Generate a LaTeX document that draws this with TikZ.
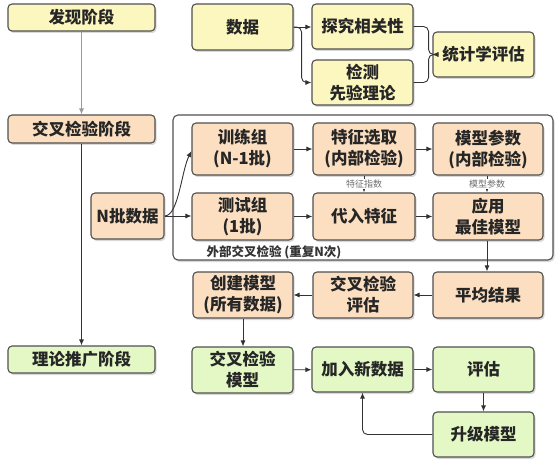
\documentclass[tikz,border=0pt]{standalone}
\usepackage{fontspec}
\setmainfont{Noto Sans CJK SC}
\usepackage{tikz}
\usetikzlibrary{arrows.meta}
\usetikzlibrary{calc}
\usetikzlibrary{shadows}
\definecolor{stage-yellow}{HTML}{FBF7BF}
\definecolor{stage-orange}{HTML}{FCDFC1}
\definecolor{stage-green}{HTML}{E3F8C4}
\definecolor{box-line}{HTML}{505050}
\definecolor{arrow-line}{HTML}{333333}
\definecolor{arrow-grey}{HTML}{9A9A9A}
\definecolor{note-grey}{HTML}{6E6E6E}
\tikzset{
  flowbox/.style={draw=box-line, line width=1.1pt, rounded corners=4pt, inner sep=0pt, align=center,
    text=black!85, font=\fontsize{16.5}{21}\selectfont\bfseries,
    drop shadow={shadow xshift=1.5pt, shadow yshift=-2pt, opacity=0.3}},
  stagebox/.style={flowbox, minimum width=147pt, minimum height=27pt},
  stepbox/.style={flowbox, minimum width=101pt, minimum height=46pt},
  widebox/.style={flowbox, minimum width=110pt, minimum height=46pt},
  flow/.style={color=arrow-line, line width=0.9pt, -{Latex[length=6pt, width=5pt]}},
  note/.style={font=\fontsize{9}{10}\selectfont, text=note-grey, fill=white, inner sep=1pt},
}

\begin{document}
\begin{tikzpicture}[x=1pt, y=-1pt]

    \useasboundingbox (0,0) rectangle (560,468);

    % outer cross validation frame
    \draw[draw=box-line, line width=1.1pt, rounded corners=5pt, fill=white,
      drop shadow={shadow xshift=1.5pt, shadow yshift=-2pt, opacity=0.3}] (173,115) rectangle (553,260);
    \node[anchor=west, font=\fontsize{12.5}{14}\selectfont\bfseries, text=black!80] (looplabel) at (203,252) {外部交叉检验 (重复N次)};

    % stages
    \node[stagebox, fill=stage-yellow] (discover) at (81.5,17.5) {发现阶段};
    \node[stagebox, fill=stage-orange, minimum height=28pt] (crossval) at (81.5,129) {交叉检验阶段};
    \node[stagebox, fill=stage-green] (theory) at (81.5,359.5) {理论推广阶段};

    % discovery
    \node[stepbox, fill=stage-yellow] (data) at (242.5,27) {数据};
    \node[stepbox, fill=stage-yellow, minimum height=45pt] (correl) at (362.5,26.5) {探究相关性};
    \node[stepbox, fill=stage-yellow, minimum height=45pt] (prior) at (362.5,82.5) {检测\\先验理论};
    \node[stepbox, fill=stage-yellow, minimum height=45pt] (stats) at (483.5,54.5) {统计学评估};

    % cross validation
    \node[flowbox, fill=stage-orange, minimum width=73pt, minimum height=46pt] (ndata) at (127.5,216) {N批数据};
    \node[stepbox, fill=stage-orange, minimum height=52pt] (train) at (242.5,149) {训练组\\(N-1批)};
    \node[stepbox, fill=stage-orange, minimum width=102pt, minimum height=52pt] (select) at (364,149) {特征选取\\(内部检验)};
    \node[widebox, fill=stage-orange, minimum height=52pt] (params) at (488,149) {模型参数\\(内部检验)};
    \node[stepbox, fill=stage-orange, minimum height=47pt] (test) at (242.5,216.5) {测试组\\(1批)};
    \node[stepbox, fill=stage-orange, minimum width=102pt, minimum height=47pt] (apply) at (364,216.5) {代入特征};
    \node[widebox, fill=stage-orange, minimum height=47pt] (best) at (488,216.5) {应用\\最佳模型};
    \node[widebox, fill=stage-orange] (mean) at (488,295) {平均结果};
    \node[stepbox, fill=stage-orange, minimum width=100pt] (cveval) at (363,295) {交叉检验\\评估};
    \node[stepbox, fill=stage-orange, minimum width=100pt] (build) at (243,295) {创建模型\\(所有数据)};

    % generalisation
    \node[stepbox, fill=stage-green] (cvmodel) at (242.5,370) {交叉检验\\模型};
    \node[stepbox, fill=stage-green, minimum height=45pt] (newdata) at (362.5,369.5) {加入新数据};
    \node[stepbox, fill=stage-green, minimum height=45pt] (assess) at (483.5,369.5) {评估};
    \node[stepbox, fill=stage-green, minimum height=45pt] (upgrade) at (483.5,434.5) {升级模型};

    % stage arrows
    \draw[flow, color=arrow-grey] (discover) -- (crossval);
    \draw[flow] (crossval) -- (theory);

    % discovery arrows
    \draw[flow] (data.east) -- (data.east -| correl.west);
    \draw[flow, rounded corners=5pt] (data.east) -- ++(8,0) |- (prior.west);
    \draw[flow, rounded corners=5pt] (correl.east) -- ++(15,0) |- (stats.west);
    \draw[flow, rounded corners=5pt] (prior.east) -- ++(15,0) |- (stats.west);

    % cross validation arrows
    \draw[flow] (ndata.east) .. controls +(14,0) and +(-10,20) .. ([yshift=-2pt]train.west);
    \draw[flow] (ndata.east) -- (ndata.east -| test.west);
    \draw[flow] (train) -- (select);
    \draw[flow] (select) -- (params);
    \draw[flow] (test) -- (apply);
    \draw[flow] (apply) -- (best);
    \draw[flow] (select) -- node[note] {特征指数} (apply);
    \draw[flow] ([xshift=-1pt]params.south) -- node[note] {模型参数} ([xshift=-1pt]best.north);
    \draw[flow] ([xshift=-1pt]best.south) -- ([xshift=-1pt]mean.north);
    \draw[flow] (mean) -- (cveval);
    \draw[flow] (cveval) -- (build);
    \draw[flow] (build) -- (build |- cvmodel.north);

    % generalisation arrows
    \draw[flow] (cvmodel) -- (newdata);
    \draw[flow] (newdata) -- (assess);
    \draw[flow] (assess) -- (upgrade);
    \draw[flow, rounded corners=5pt] (upgrade.west) -| (newdata.south);

\end{tikzpicture}
\end{document}
